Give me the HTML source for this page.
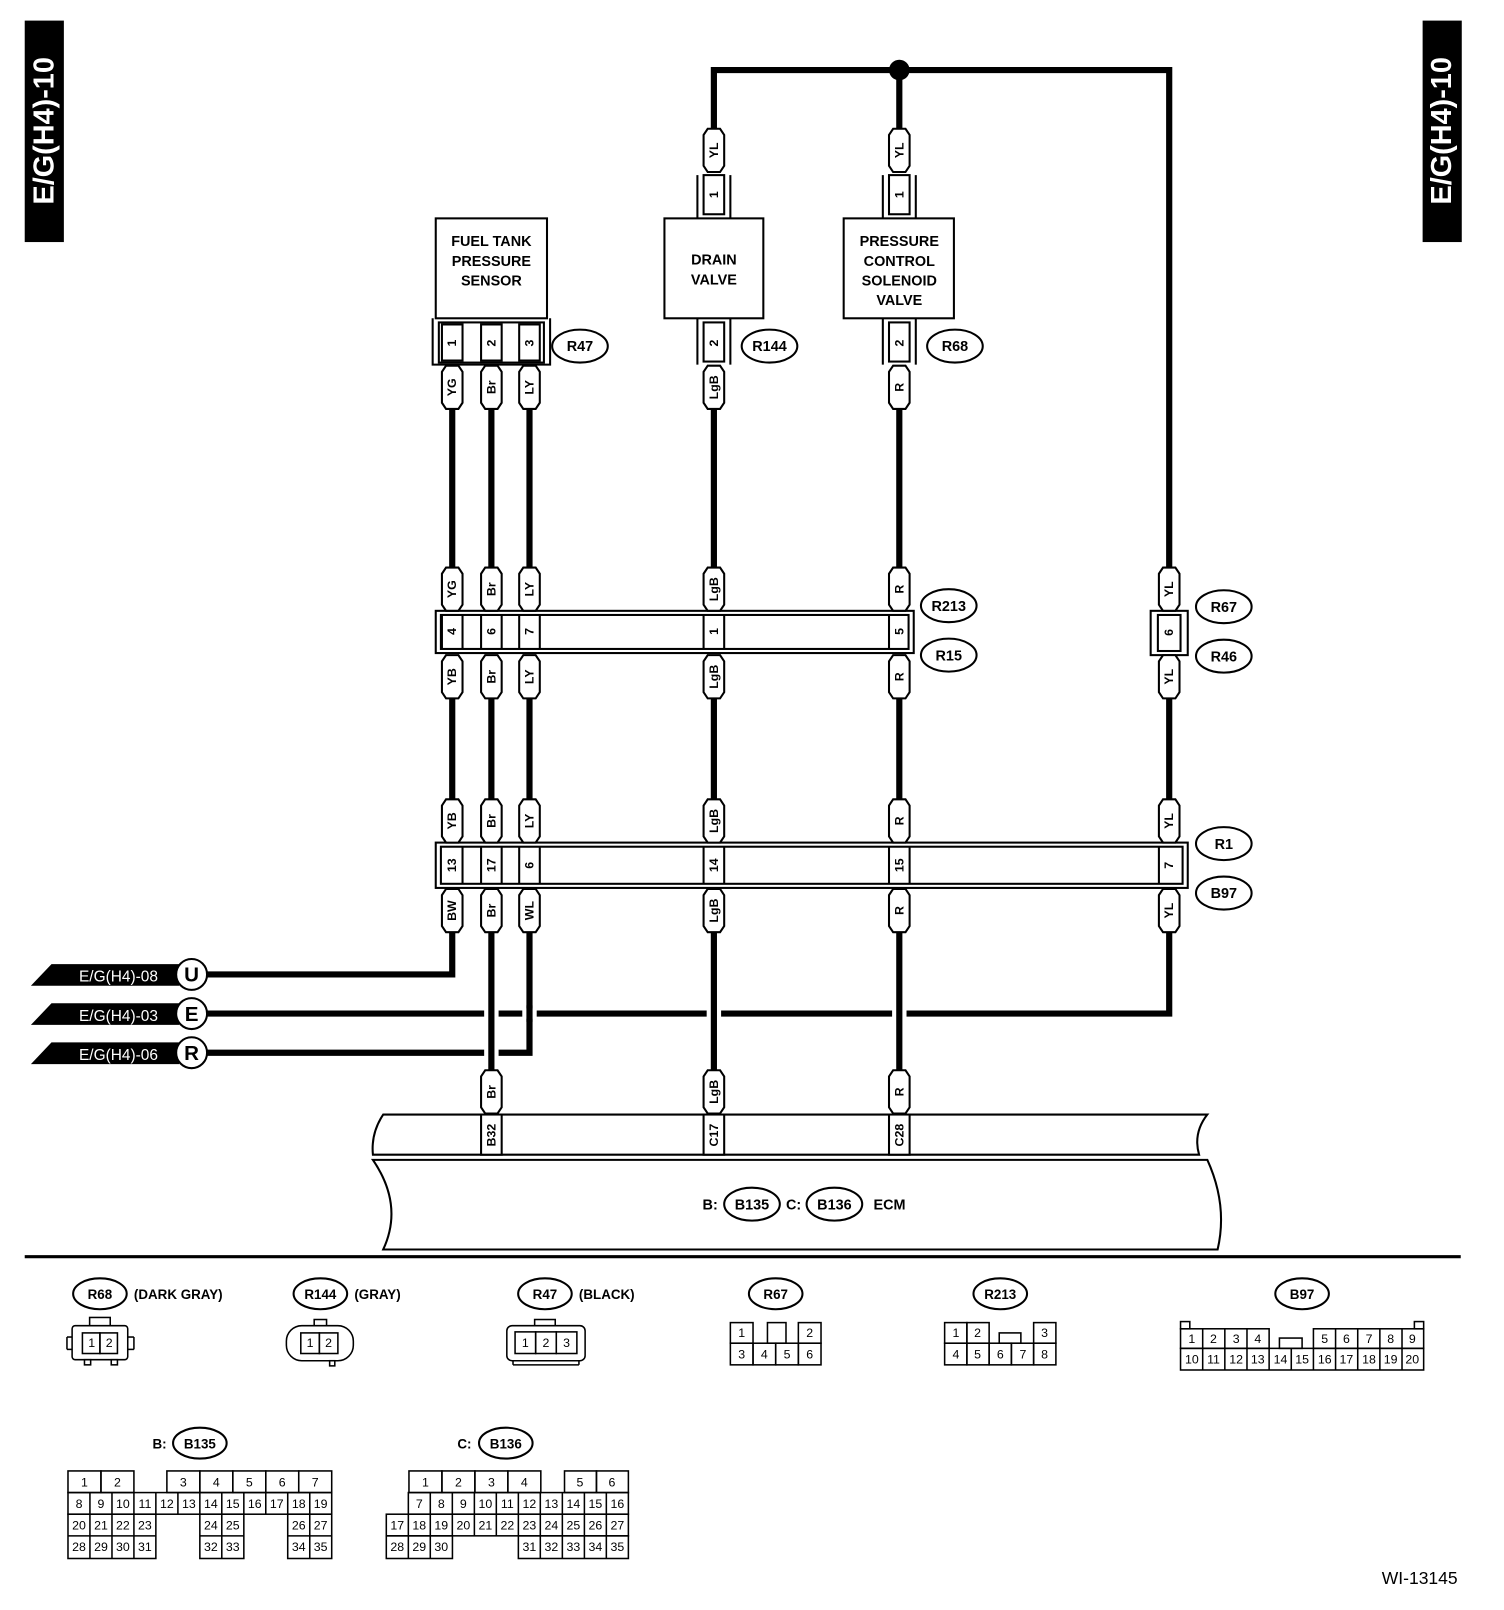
<!DOCTYPE html>
<html><head><meta charset="utf-8"><style>
html,body{margin:0;padding:0;background:#fff}
svg{display:block}
text{font-family:"Liberation Sans",sans-serif;fill:#000}
.b{font-weight:bold}
.w{fill:none;stroke:#000;stroke-width:6}
.t{font-size:12px;font-weight:bold;text-anchor:middle;dominant-baseline:central}
.o{fill:#fff;stroke:#000;stroke-width:2}
.g{font-size:12px;text-anchor:middle;dominant-baseline:central}
.l{fill:none;stroke:#000;stroke-width:2}
</style></head><body>
<svg width="1504" height="1610" viewBox="0 0 1460 1563" preserveAspectRatio="none" xmlns="http://www.w3.org/2000/svg">
<defs>
<path id="tag" d="M-10,-15 L-6,-21 L6,-21 L10,-15 L10,15 L6,21 L-6,21 L-10,15 Z" fill="#fff" stroke="#000" stroke-width="2"/>
</defs>
<rect x="24" y="20" width="38" height="215" fill="#000"/>
<text transform="translate(43,127) rotate(-90)" class="b" style="fill:#fff;font-size:28px" text-anchor="middle" dominant-baseline="central">E/G(H4)-10</text>
<rect x="1381" y="20" width="38" height="215" fill="#000"/>
<text transform="translate(1400,127) rotate(-90)" class="b" style="fill:#fff;font-size:28px" text-anchor="middle" dominant-baseline="central">E/G(H4)-10</text>

<polyline class="w" points="693,125 693,68 1135,68 1135,553"/>
<line class="w" x1="873" y1="68" x2="873" y2="125"/>
<circle cx="873" cy="68" r="10" fill="#000"/>
<polyline class="w" points="439,905 439,946 200,946"/>
<polyline class="w" points="200,984 1135,984 1135,905"/>
<polyline class="w" points="514,905 514,1022 200,1022"/>
<rect x="470" y="979" width="14" height="10" fill="#fff"/>
<rect x="507" y="979" width="14" height="10" fill="#fff"/>
<rect x="686" y="979" width="14" height="10" fill="#fff"/>
<rect x="866" y="979" width="14" height="10" fill="#fff"/>
<rect x="470" y="1017" width="14" height="10" fill="#fff"/>
<line class="w" x1="514" y1="976" x2="514" y2="992"/>

<g class="w">
<line x1="439" y1="397" x2="439" y2="553"/><line x1="477" y1="397" x2="477" y2="553"/><line x1="514" y1="397" x2="514" y2="553"/>
<line x1="693" y1="397" x2="693" y2="553"/><line x1="873" y1="397" x2="873" y2="553"/>
<line x1="439" y1="678" x2="439" y2="777"/><line x1="477" y1="678" x2="477" y2="777"/><line x1="514" y1="678" x2="514" y2="777"/>
<line x1="693" y1="678" x2="693" y2="777"/><line x1="873" y1="678" x2="873" y2="777"/><line x1="1135" y1="678" x2="1135" y2="777"/>
<line x1="477" y1="905" x2="477" y2="1040"/><line x1="693" y1="905" x2="693" y2="1040"/><line x1="873" y1="905" x2="873" y2="1040"/>
</g>

<rect x="423" y="212" width="108" height="97" class="o"/>
<text class="b" font-size="14" text-anchor="middle"><tspan x="477" y="239">FUEL TANK</tspan><tspan x="477" y="258">PRESSURE</tspan><tspan x="477" y="277">SENSOR</tspan></text>
<rect x="645" y="212" width="96" height="97" class="o"/>
<text class="b" font-size="14" text-anchor="middle"><tspan x="693" y="257">DRAIN</tspan><tspan x="693" y="276">VALVE</tspan></text>
<rect x="819" y="212" width="107" height="97" class="o"/>
<text class="b" font-size="14" text-anchor="middle"><tspan x="873" y="239">PRESSURE</tspan><tspan x="873" y="258">CONTROL</tspan><tspan x="873" y="277">SOLENOID</tspan><tspan x="873" y="296">VALVE</tspan></text>

<polyline class="l" points="420,309 420,354 534,354 534,309"/>
<rect x="426" y="313" width="102" height="39" class="o"/>
<rect x="429" y="315" width="20" height="35" class="o"/><rect x="467" y="315" width="20" height="35" class="o"/><rect x="504" y="315" width="20" height="35" class="o"/>
<text transform="translate(439,333) rotate(-90)" class="t">1</text><text transform="translate(477,333) rotate(-90)" class="t">2</text><text transform="translate(514,333) rotate(-90)" class="t">3</text>
<polyline class="l" points="677,309 677,354"/><polyline class="l" points="709,309 709,354"/>
<rect x="683" y="313" width="20" height="38" class="o"/><text transform="translate(693,333) rotate(-90)" class="t">2</text>
<polyline class="l" points="857,309 857,354"/><polyline class="l" points="889,309 889,354"/>
<rect x="863" y="313" width="20" height="38" class="o"/><text transform="translate(873,333) rotate(-90)" class="t">2</text>
<polyline class="l" points="677,170 677,212"/><polyline class="l" points="709,170 709,212"/>
<rect x="683" y="170" width="20" height="38" class="o"/><text transform="translate(693,189) rotate(-90)" class="t">1</text>
<polyline class="l" points="857,170 857,212"/><polyline class="l" points="889,170 889,212"/>
<rect x="863" y="170" width="20" height="38" class="o"/><text transform="translate(873,189) rotate(-90)" class="t">1</text>

<g font-size="14" class="b">
<ellipse cx="563" cy="336" rx="27" ry="16" class="o"/><text x="563" y="341" text-anchor="middle">R47</text>
<ellipse cx="747" cy="336" rx="27" ry="16" class="o"/><text x="747" y="341" text-anchor="middle">R144</text>
<ellipse cx="927" cy="336" rx="27" ry="16" class="o"/><text x="927" y="341" text-anchor="middle">R68</text>
<ellipse cx="921" cy="588" rx="27" ry="16" class="o"/><text x="921" y="593" text-anchor="middle">R213</text>
<ellipse cx="921" cy="636" rx="27" ry="16" class="o"/><text x="921" y="641" text-anchor="middle">R15</text>
<ellipse cx="1188" cy="589" rx="27" ry="16" class="o"/><text x="1188" y="594" text-anchor="middle">R67</text>
<ellipse cx="1188" cy="637" rx="27" ry="16" class="o"/><text x="1188" y="642" text-anchor="middle">R46</text>
<ellipse cx="1188" cy="819" rx="27" ry="16" class="o"/><text x="1188" y="824" text-anchor="middle">R1</text>
<ellipse cx="1188" cy="867" rx="27" ry="16" class="o"/><text x="1188" y="872" text-anchor="middle">B97</text>
</g>

<rect x="423" y="593" width="464" height="41" class="o"/>
<rect x="428" y="597" width="454" height="33" class="o"/>
<g class="l"><line x1="429" y1="597" x2="429" y2="630"/><line x1="449" y1="597" x2="449" y2="630"/><line x1="467" y1="597" x2="467" y2="630"/><line x1="487" y1="597" x2="487" y2="630"/><line x1="504" y1="597" x2="504" y2="630"/><line x1="524" y1="597" x2="524" y2="630"/><line x1="683" y1="597" x2="683" y2="630"/><line x1="703" y1="597" x2="703" y2="630"/><line x1="863" y1="597" x2="863" y2="630"/></g>
<text transform="translate(439,613) rotate(-90)" class="t">4</text><text transform="translate(477,613) rotate(-90)" class="t">6</text><text transform="translate(514,613) rotate(-90)" class="t">7</text><text transform="translate(693,613) rotate(-90)" class="t">1</text><text transform="translate(873,613) rotate(-90)" class="t">5</text>
<rect x="1117" y="593" width="36" height="43" class="o"/>
<rect x="1124" y="597" width="22" height="35" class="o"/>
<text transform="translate(1135,614) rotate(-90)" class="t">6</text>

<rect x="423" y="818" width="730" height="44" class="o"/>
<rect x="428" y="822" width="720" height="36" class="o"/>
<g class="l"><line x1="449" y1="822" x2="449" y2="858"/><line x1="467" y1="822" x2="467" y2="858"/><line x1="487" y1="822" x2="487" y2="858"/><line x1="504" y1="822" x2="504" y2="858"/><line x1="524" y1="822" x2="524" y2="858"/><line x1="683" y1="822" x2="683" y2="858"/><line x1="703" y1="822" x2="703" y2="858"/><line x1="863" y1="822" x2="863" y2="858"/><line x1="883" y1="822" x2="883" y2="858"/><line x1="1125" y1="822" x2="1125" y2="858"/></g>
<text transform="translate(439,840) rotate(-90)" class="t">13</text><text transform="translate(477,840) rotate(-90)" class="t">17</text><text transform="translate(514,840) rotate(-90)" class="t">6</text><text transform="translate(693,840) rotate(-90)" class="t">14</text><text transform="translate(873,840) rotate(-90)" class="t">15</text><text transform="translate(1135,840) rotate(-90)" class="t">7</text>

<use href="#tag" x="693" y="146"/><text transform="translate(693,146) rotate(-90)" class="t">YL</text>
<use href="#tag" x="873" y="146"/><text transform="translate(873,146) rotate(-90)" class="t">YL</text>

<use href="#tag" x="439" y="376"/><text transform="translate(439,376) rotate(-90)" class="t">YG</text>
<use href="#tag" x="477" y="376"/><text transform="translate(477,376) rotate(-90)" class="t">Br</text>
<use href="#tag" x="514" y="376"/><text transform="translate(514,376) rotate(-90)" class="t">LY</text>
<use href="#tag" x="693" y="376"/><text transform="translate(693,376) rotate(-90)" class="t">LgB</text>
<use href="#tag" x="873" y="376"/><text transform="translate(873,376) rotate(-90)" class="t">R</text>

<use href="#tag" x="439" y="572"/><text transform="translate(439,572) rotate(-90)" class="t">YG</text>
<use href="#tag" x="477" y="572"/><text transform="translate(477,572) rotate(-90)" class="t">Br</text>
<use href="#tag" x="514" y="572"/><text transform="translate(514,572) rotate(-90)" class="t">LY</text>
<use href="#tag" x="693" y="572"/><text transform="translate(693,572) rotate(-90)" class="t">LgB</text>
<use href="#tag" x="873" y="572"/><text transform="translate(873,572) rotate(-90)" class="t">R</text>
<use href="#tag" x="1135" y="572"/><text transform="translate(1135,572) rotate(-90)" class="t">YL</text>

<use href="#tag" x="439" y="657"/><text transform="translate(439,657) rotate(-90)" class="t">YB</text>
<use href="#tag" x="477" y="657"/><text transform="translate(477,657) rotate(-90)" class="t">Br</text>
<use href="#tag" x="514" y="657"/><text transform="translate(514,657) rotate(-90)" class="t">LY</text>
<use href="#tag" x="693" y="657"/><text transform="translate(693,657) rotate(-90)" class="t">LgB</text>
<use href="#tag" x="873" y="657"/><text transform="translate(873,657) rotate(-90)" class="t">R</text>
<use href="#tag" x="1135" y="657"/><text transform="translate(1135,657) rotate(-90)" class="t">YL</text>

<use href="#tag" x="439" y="797"/><text transform="translate(439,797) rotate(-90)" class="t">YB</text>
<use href="#tag" x="477" y="797"/><text transform="translate(477,797) rotate(-90)" class="t">Br</text>
<use href="#tag" x="514" y="797"/><text transform="translate(514,797) rotate(-90)" class="t">LY</text>
<use href="#tag" x="693" y="797"/><text transform="translate(693,797) rotate(-90)" class="t">LgB</text>
<use href="#tag" x="873" y="797"/><text transform="translate(873,797) rotate(-90)" class="t">R</text>
<use href="#tag" x="1135" y="797"/><text transform="translate(1135,797) rotate(-90)" class="t">YL</text>

<use href="#tag" x="439" y="884"/><text transform="translate(439,884) rotate(-90)" class="t">BW</text>
<use href="#tag" x="477" y="884"/><text transform="translate(477,884) rotate(-90)" class="t">Br</text>
<use href="#tag" x="514" y="884"/><text transform="translate(514,884) rotate(-90)" class="t">WL</text>
<use href="#tag" x="693" y="884"/><text transform="translate(693,884) rotate(-90)" class="t">LgB</text>
<use href="#tag" x="873" y="884"/><text transform="translate(873,884) rotate(-90)" class="t">R</text>
<use href="#tag" x="1135" y="884"/><text transform="translate(1135,884) rotate(-90)" class="t">YL</text>

<path d="M372,1082 H1172 Q1158,1100 1164,1121 H362 Q360,1100 372,1082 Z" class="o"/>
<path d="M362,1126 H1172 Q1192,1170 1182,1213 H372 Q392,1170 362,1126 Z" class="o"/>
<rect x="467" y="1082" width="20" height="39" class="o"/><text transform="translate(477,1102) rotate(-90)" class="t">B32</text>
<rect x="683" y="1082" width="20" height="39" class="o"/><text transform="translate(693,1102) rotate(-90)" class="t">C17</text>
<rect x="863" y="1082" width="20" height="39" class="o"/><text transform="translate(873,1102) rotate(-90)" class="t">C28</text>
<use href="#tag" x="477" y="1060"/><text transform="translate(477,1060) rotate(-90)" class="t">Br</text>
<use href="#tag" x="693" y="1060"/><text transform="translate(693,1060) rotate(-90)" class="t">LgB</text>
<use href="#tag" x="873" y="1060"/><text transform="translate(873,1060) rotate(-90)" class="t">R</text>
<g class="b" font-size="14">
<text x="682" y="1174">B:</text>
<ellipse cx="730" cy="1169" rx="27" ry="16" class="o"/><text x="730" y="1174" text-anchor="middle">B135</text>
<text x="763" y="1174">C:</text>
<ellipse cx="810" cy="1169" rx="27" ry="16" class="o"/><text x="810" y="1174" text-anchor="middle">B136</text>
<text x="848" y="1174">ECM</text>
</g>

<g font-size="15">
<polygon points="30,957 50,936 174,936 174,957" fill="#000"/><text x="115" y="953" text-anchor="middle" style="fill:#fff">E/G(H4)-08</text>
<circle cx="186" cy="946" r="15" class="o"/><text x="186" y="953" text-anchor="middle" class="b" font-size="20">U</text>
<polygon points="30,995 50,974 174,974 174,995" fill="#000"/><text x="115" y="991" text-anchor="middle" style="fill:#fff">E/G(H4)-03</text>
<circle cx="186" cy="984" r="15" class="o"/><text x="186" y="991" text-anchor="middle" class="b" font-size="20">E</text>
<polygon points="30,1033 50,1012 174,1012 174,1033" fill="#000"/><text x="115" y="1029" text-anchor="middle" style="fill:#fff">E/G(H4)-06</text>
<circle cx="186" cy="1022" r="15" class="o"/><text x="186" y="1029" text-anchor="middle" class="b" font-size="20">R</text>
</g>

<line x1="24" y1="1220" x2="1418" y2="1220" stroke="#000" stroke-width="3"/>

<g class="b" font-size="13">
<ellipse cx="97" cy="1256" rx="26" ry="15" class="o"/><text x="97" y="1261" text-anchor="middle">R68</text><text x="130" y="1261">(DARK GRAY)</text>
<ellipse cx="311" cy="1256" rx="26" ry="15" class="o"/><text x="311" y="1261" text-anchor="middle">R144</text><text x="344" y="1261">(GRAY)</text>
<ellipse cx="529" cy="1256" rx="26" ry="15" class="o"/><text x="529" y="1261" text-anchor="middle">R47</text><text x="562" y="1261">(BLACK)</text>
<ellipse cx="753" cy="1256" rx="26" ry="15" class="o"/><text x="753" y="1261" text-anchor="middle">R67</text>
<ellipse cx="971" cy="1256" rx="26" ry="15" class="o"/><text x="971" y="1261" text-anchor="middle">R213</text>
<ellipse cx="1264" cy="1256" rx="26" ry="15" class="o"/><text x="1264" y="1261" text-anchor="middle">B97</text>
<text x="148" y="1406">B:</text>
<ellipse cx="194" cy="1401" rx="26" ry="15" class="o"/><text x="194" y="1406" text-anchor="middle">B135</text>
<text x="444" y="1406">C:</text>
<ellipse cx="491" cy="1401" rx="26" ry="15" class="o"/><text x="491" y="1406" text-anchor="middle">B136</text>
</g>

<g class="l" style="stroke-width:1.5">
<rect x="87" y="1279" width="20" height="10" fill="#fff" stroke="#000"/>
<rect x="70" y="1287" width="54" height="33" rx="3" fill="#fff"/>
<line x1="70" y1="1298" x2="65" y2="1298"/><line x1="65" y1="1298" x2="65" y2="1310"/><line x1="65" y1="1310" x2="70" y2="1310"/>
<line x1="124" y1="1298" x2="130" y2="1298"/><line x1="130" y1="1298" x2="130" y2="1310"/><line x1="130" y1="1310" x2="124" y2="1310"/>
<rect x="80" y="1294" width="17" height="20"/><rect x="97" y="1294" width="17" height="20"/>
<rect x="82" y="1320" width="6" height="5"/><rect x="108" y="1320" width="6" height="5"/>
<rect x="305" y="1281" width="12" height="7" fill="#fff"/>
<rect x="278" y="1287" width="65" height="34" rx="15" fill="#fff"/>
<rect x="292" y="1294" width="18" height="20"/><rect x="310" y="1294" width="18" height="20"/>
<rect x="320" y="1321" width="5" height="5"/>
<rect x="519" y="1281" width="20" height="7" fill="#fff"/>
<rect x="492" y="1287" width="76" height="34" rx="5" fill="#fff"/>
<rect x="500" y="1293" width="20" height="21"/><rect x="520" y="1293" width="20" height="21"/><rect x="540" y="1293" width="20" height="21"/>
<line x1="498" y1="1321" x2="498" y2="1325"/><line x1="498" y1="1325" x2="562" y2="1325"/><line x1="562" y1="1325" x2="562" y2="1321"/>
</g>
<g class="g">
<text x="89" y="1304">1</text><text x="106" y="1304">2</text>
<text x="301" y="1304">1</text><text x="319" y="1304">2</text>
<text x="510" y="1304">1</text><text x="530" y="1304">2</text><text x="550" y="1304">3</text>
</g>

<g class="l" style="stroke-width:1.5">
<rect x="709" y="1284" width="22" height="20"/><rect x="745" y="1284" width="18" height="20"/><rect x="775" y="1284" width="22" height="20"/>
<rect x="709" y="1304" width="22" height="21"/><rect x="731" y="1304" width="22" height="21"/><rect x="753" y="1304" width="22" height="21"/><rect x="775" y="1304" width="22" height="21"/>
</g>
<g class="g"><text x="720" y="1294">1</text><text x="786" y="1294">2</text><text x="720" y="1315">3</text><text x="742" y="1315">4</text><text x="764" y="1315">5</text><text x="786" y="1315">6</text></g>

<g class="l" style="stroke-width:1.5">
<rect x="917" y="1284" width="21.6" height="20"/><rect x="938.6" y="1284" width="21.6" height="20"/><rect x="970" y="1294" width="21" height="10"/><rect x="1003.4" y="1284" width="21.6" height="20"/>
<rect x="917" y="1304" width="21.6" height="21"/><rect x="938.6" y="1304" width="21.6" height="21"/><rect x="960.2" y="1304" width="21.6" height="21"/><rect x="981.8" y="1304" width="21.6" height="21"/><rect x="1003.4" y="1304" width="21.6" height="21"/>
</g>
<g class="g"><text x="928" y="1294">1</text><text x="949" y="1294">2</text><text x="1014" y="1294">3</text><text x="928" y="1315">4</text><text x="949" y="1315">5</text><text x="971" y="1315">6</text><text x="993" y="1315">7</text><text x="1014" y="1315">8</text></g>

<g class="l" style="stroke-width:1.5">
<rect x="1146" y="1283" width="9" height="7"/><rect x="1373" y="1283" width="9" height="7"/>
<rect x="1146" y="1290" width="86" height="19"/><rect x="1242" y="1299" width="22" height="10"/><rect x="1275" y="1290" width="107" height="19"/>
<line x1="1167.5" y1="1290" x2="1167.5" y2="1309"/><line x1="1189" y1="1290" x2="1189" y2="1309"/><line x1="1210.5" y1="1290" x2="1210.5" y2="1309"/>
<line x1="1296.5" y1="1290" x2="1296.5" y2="1309"/><line x1="1318" y1="1290" x2="1318" y2="1309"/><line x1="1339.5" y1="1290" x2="1339.5" y2="1309"/><line x1="1361" y1="1290" x2="1361" y2="1309"/>
<rect x="1146" y="1309" width="236" height="21"/>
<line x1="1167.5" y1="1309" x2="1167.5" y2="1330"/><line x1="1189" y1="1309" x2="1189" y2="1330"/><line x1="1210.5" y1="1309" x2="1210.5" y2="1330"/><line x1="1232" y1="1309" x2="1232" y2="1330"/><line x1="1253.5" y1="1309" x2="1253.5" y2="1330"/><line x1="1275" y1="1309" x2="1275" y2="1330"/><line x1="1296.5" y1="1309" x2="1296.5" y2="1330"/><line x1="1318" y1="1309" x2="1318" y2="1330"/><line x1="1339.5" y1="1309" x2="1339.5" y2="1330"/><line x1="1361" y1="1309" x2="1361" y2="1330"/>
</g>
<g class="g">
<text x="1157" y="1300">1</text><text x="1178" y="1300">2</text><text x="1200" y="1300">3</text><text x="1221" y="1300">4</text><text x="1286" y="1300">5</text><text x="1307" y="1300">6</text><text x="1329" y="1300">7</text><text x="1350" y="1300">8</text><text x="1371" y="1300">9</text>
<text x="1157" y="1320">10</text><text x="1178" y="1320">11</text><text x="1200" y="1320">12</text><text x="1221" y="1320">13</text><text x="1243" y="1320">14</text><text x="1264" y="1320">15</text><text x="1286" y="1320">16</text><text x="1307" y="1320">17</text><text x="1329" y="1320">18</text><text x="1350" y="1320">19</text><text x="1371" y="1320">20</text>
</g>

<g class="l" style="stroke-width:1.5">
<rect x="66" y="1428" width="32" height="21"/><rect x="98" y="1428" width="32" height="21"/>
<rect x="162" y="1428" width="32" height="21"/><rect x="194" y="1428" width="32" height="21"/><rect x="226" y="1428" width="32" height="21"/><rect x="258" y="1428" width="32" height="21"/><rect x="290" y="1428" width="32" height="21"/>
<rect x="66" y="1449" width="256" height="21"/>
<rect x="66" y="1470" width="85.3" height="43"/><rect x="194" y="1470" width="42.7" height="43"/><rect x="279.3" y="1470" width="42.7" height="43"/>
<line x1="66" y1="1491" x2="151.3" y2="1491"/><line x1="194" y1="1491" x2="236.7" y2="1491"/><line x1="279.3" y1="1491" x2="322" y2="1491"/>
<line x1="87.3" y1="1449" x2="87.3" y2="1513"/><line x1="108.7" y1="1449" x2="108.7" y2="1513"/><line x1="130" y1="1449" x2="130" y2="1513"/><line x1="151.3" y1="1449" x2="151.3" y2="1470"/><line x1="172.7" y1="1449" x2="172.7" y2="1470"/><line x1="194" y1="1449" x2="194" y2="1470"/><line x1="215.3" y1="1449" x2="215.3" y2="1513"/><line x1="236.7" y1="1449" x2="236.7" y2="1470"/><line x1="258" y1="1449" x2="258" y2="1470"/><line x1="279.3" y1="1449" x2="279.3" y2="1470"/><line x1="300.7" y1="1449" x2="300.7" y2="1513"/>
</g>
<g class="g">
<text x="82" y="1439">1</text><text x="114" y="1439">2</text><text x="178" y="1439">3</text><text x="210" y="1439">4</text><text x="242" y="1439">5</text><text x="274" y="1439">6</text><text x="306" y="1439">7</text>
<text x="76.7" y="1460">8</text><text x="98" y="1460">9</text><text x="119.3" y="1460">10</text><text x="140.7" y="1460">11</text><text x="162" y="1460">12</text><text x="183.3" y="1460">13</text><text x="204.7" y="1460">14</text><text x="226" y="1460">15</text><text x="247.3" y="1460">16</text><text x="268.7" y="1460">17</text><text x="290" y="1460">18</text><text x="311.3" y="1460">19</text>
<text x="76.7" y="1481">20</text><text x="98" y="1481">21</text><text x="119.3" y="1481">22</text><text x="140.7" y="1481">23</text><text x="204.7" y="1481">24</text><text x="226" y="1481">25</text><text x="290" y="1481">26</text><text x="311.3" y="1481">27</text>
<text x="76.7" y="1502">28</text><text x="98" y="1502">29</text><text x="119.3" y="1502">30</text><text x="140.7" y="1502">31</text><text x="204.7" y="1502">32</text><text x="226" y="1502">33</text><text x="290" y="1502">34</text><text x="311.3" y="1502">35</text>
</g>

<g class="l" style="stroke-width:1.5">
<rect x="397" y="1428" width="32" height="21"/><rect x="429" y="1428" width="32" height="21"/><rect x="461" y="1428" width="32" height="21"/><rect x="493" y="1428" width="32" height="21"/>
<rect x="548" y="1428" width="31" height="21"/><rect x="579" y="1428" width="31" height="21"/>
<rect x="396.4" y="1449" width="213.6" height="21"/>
<rect x="375" y="1470" width="235" height="21"/>
<rect x="375" y="1491" width="64.2" height="22"/><rect x="503.2" y="1491" width="106.8" height="22"/>
<line x1="417.7" y1="1449" x2="417.7" y2="1513"/><line x1="439.1" y1="1449" x2="439.1" y2="1491"/><line x1="460.5" y1="1449" x2="460.5" y2="1491"/><line x1="481.8" y1="1449" x2="481.8" y2="1491"/><line x1="503.2" y1="1449" x2="503.2" y2="1491"/><line x1="524.5" y1="1449" x2="524.5" y2="1513"/><line x1="545.9" y1="1449" x2="545.9" y2="1513"/><line x1="567.3" y1="1449" x2="567.3" y2="1513"/><line x1="588.6" y1="1449" x2="588.6" y2="1513"/><line x1="396.4" y1="1470" x2="396.4" y2="1513"/>
</g>
<g class="g">
<text x="413" y="1439">1</text><text x="445" y="1439">2</text><text x="477" y="1439">3</text><text x="509" y="1439">4</text><text x="563" y="1439">5</text><text x="594" y="1439">6</text>
<text x="407" y="1460">7</text><text x="428.4" y="1460">8</text><text x="449.8" y="1460">9</text><text x="471.2" y="1460">10</text><text x="492.5" y="1460">11</text><text x="513.9" y="1460">12</text><text x="535.2" y="1460">13</text><text x="556.6" y="1460">14</text><text x="578" y="1460">15</text><text x="599.3" y="1460">16</text>
<text x="385.7" y="1481">17</text><text x="407" y="1481">18</text><text x="428.4" y="1481">19</text><text x="449.8" y="1481">20</text><text x="471.2" y="1481">21</text><text x="492.5" y="1481">22</text><text x="513.9" y="1481">23</text><text x="535.2" y="1481">24</text><text x="556.6" y="1481">25</text><text x="578" y="1481">26</text><text x="599.3" y="1481">27</text>
<text x="385.7" y="1502">28</text><text x="407" y="1502">29</text><text x="428.4" y="1502">30</text><text x="513.9" y="1502">31</text><text x="535.2" y="1502">32</text><text x="556.6" y="1502">33</text><text x="578" y="1502">34</text><text x="599.3" y="1502">35</text>
</g>

<text x="1415" y="1538" text-anchor="end" font-size="17">WI-13145</text>
</svg>
</body></html>
